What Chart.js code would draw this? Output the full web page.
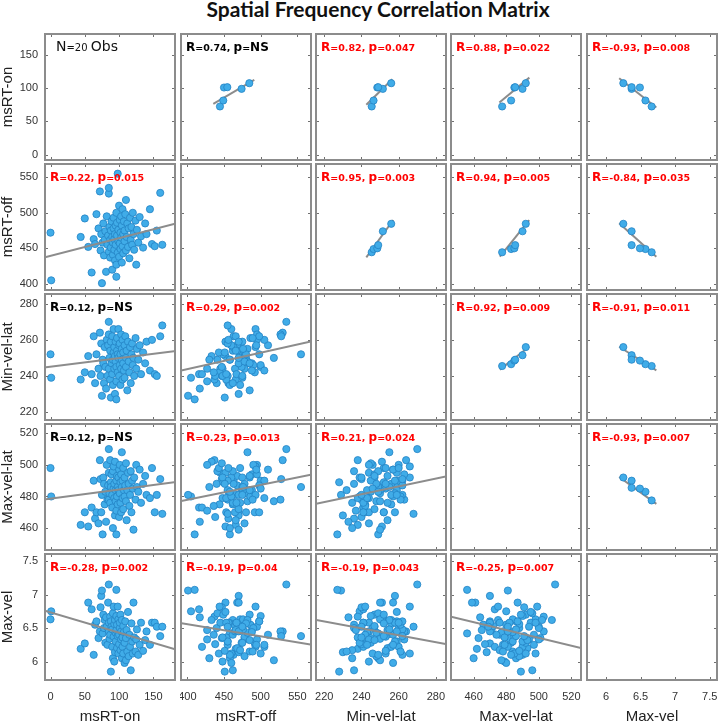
<!DOCTYPE html>
<html>
<head>
<meta charset="utf-8">
<script src="https://cdn.jsdelivr.net/npm/chart.js@4.4.0/dist/chart.umd.min.js"></script>
<style>
  html, body { margin: 0; padding: 0; background: #fff; overflow: hidden; }
  #wrap { position: relative; width: 720px; height: 722px; overflow: hidden; }
  #title { position: absolute; left: 0; top: -4px; width: 756px; text-align: center;
           font: bold 21px Lato, "Open Sans", sans-serif; color: #111; }
  #wrap canvas { position: absolute; }
</style>
</head>
<body>
<div id="wrap"><div id="title">Spatial Frequency Correlation Matrix</div></div>
<script>
// noms des variables et axes
const varNames = ['msRT-on', 'msRT-off', 'Min-vel-lat', 'Max-vel-lat', 'Max-vel'];
const axisMin = [-9.5, 390, 215, 445.5, 5.71];
const axisMax = [183, 570, 286, 526.5, 7.62];
const tickVals = [
    [0, 50, 100, 150],
    [400, 450, 500, 550],
    [220, 240, 260, 280],
    [460, 480, 500, 520],
    [6, 6.5, 7, 7.5]
];

// grand échantillon (triangle inférieur)
const msRTon = [
    0, 1, 44, 50, 55, 60, 63, 65, 67, 70,
    72, 73, 74, 75, 76, 77, 78, 79, 80, 81,
    82, 83, 84, 85, 85, 86, 87, 87, 88, 88,
    89, 90, 90, 91, 91, 92, 92, 93, 93, 94,
    94, 95, 95, 96, 96, 97, 97, 98, 98, 99,
    99, 100, 100, 101, 101, 102, 102, 103, 103, 104,
    104, 105, 105, 106, 106, 107, 108, 108, 109, 110,
    110, 111, 112, 113, 114, 115, 116, 117, 118, 119,
    120, 121, 122, 124, 125, 126, 128, 130, 132, 135,
    138, 140, 145, 148, 152, 155, 160, 163, 85, 96
];
const msRToff = [
    472, 405, 466, 492, 452, 416, 463, 456, 498, 478,
    530, 447, 470, 401, 458, 485, 440, 462, 474, 417,
    495, 455, 468, 527, 445, 480, 437, 462, 451, 475,
    488, 420, 466, 458, 441, 478, 493, 448, 463, 470,
    433, 482, 455, 500, 427, 468, 486, 555, 444, 460,
    476, 510, 438, 490, 457, 472, 449, 495, 465, 430,
    482, 453, 505, 470, 443, 488, 460, 475, 498, 518,
    447, 466, 485, 452, 478, 436, 493, 462, 480, 455,
    500, 470, 448, 489, 427, 476, 458, 494, 467, 451,
    485, 470, 505, 456, 453, 475, 528, 455, 535, 410
];
const minVelLat = [
    252, 239, 238, 242, 251, 241, 262, 236, 252, 244,
    264, 240, 258, 229, 249, 247, 236, 256, 245, 233,
    260, 240, 257, 263, 244, 250, 238, 254, 228, 259,
    247, 241, 262, 235, 249, 253, 266, 244, 256, 230,
    251, 248, 259, 245, 237, 254, 261, 252, 242, 266,
    250, 257, 240, 246, 258, 235, 252, 263, 244, 249,
    255, 238, 260, 247, 253, 243, 257, 239, 262, 250,
    245, 254, 232, 259, 248, 242, 256, 236, 252, 258,
    246, 250, 240, 261, 244, 255, 249, 257, 241, 253,
    247, 259, 243, 260, 241, 240, 262, 268, 270, 227
];
const maxVelLat = [
    498, 480, 462, 470, 461, 473, 490, 466, 470, 463,
    503, 491, 470, 481, 456, 492, 488, 475, 483, 464,
    500, 478, 487, 478, 495, 482, 503, 476, 489, 486,
    494, 473, 481, 460, 496, 485, 499, 479, 488, 468,
    502, 477, 484, 490, 471, 493, 480, 486, 475, 492,
    484, 497, 467, 500, 482, 476, 489, 494, 470, 486,
    508, 479, 490, 472, 498, 484, 480, 492, 487, 477,
    501, 465, 484, 495, 488, 474, 481, 496, 470, 490,
    485, 459, 492, 478, 500, 486, 483, 497, 476, 488,
    493, 481, 479, 498, 470, 481, 491, 469, 510, 456
];
const maxVel = [
    6.63, 6.75, 6.19, 6.27, 6.88, 6.78, 6.10, 6.55, 6.60, 6.35,
    6.45, 6.81, 6.98, 7.06, 6.42, 6.70, 6.50, 6.62, 6.28, 6.66,
    6.52, 6.25, 6.88, 6.45, 6.58, 6.34, 6.67, 6.40, 5.85, 6.60,
    6.52, 6.22, 6.48, 6.05, 6.72, 6.37, 6.82, 6.00, 6.56, 6.14,
    6.62, 6.43, 6.30, 6.68, 6.47, 6.20, 6.55, 6.38, 6.82, 6.12,
    6.63, 6.40, 6.26, 6.50, 6.58, 6.17, 6.70, 6.33, 6.45, 6.05,
    6.62, 6.36, 6.22, 6.53, 6.12, 6.44, 5.98, 6.28, 6.60, 6.02,
    6.35, 6.47, 6.15, 6.74, 6.08, 6.40, 6.22, 5.87, 6.57, 6.30,
    6.12, 6.88, 6.36, 6.15, 6.33, 6.48, 6.10, 6.25, 6.58, 6.16,
    6.32, 6.45, 6.25, 6.58, 6.58, 6.52, 6.38, 6.52, 7.15, 7.07
];
const bigObs = [msRTon, msRToff, minVelLat, maxVelLat, maxVel];

// petit échantillon (triangle supérieur)
const smallOn = [72.5, 81.5, 99, 101, 101.5, 107.5];
const smallOff = [444.5, 449, 474, 450, 454.5, 484.5];
const smallMinLat = [245.5, 246.5, 251.5, 248.5, 249, 256];
const smallMaxLat = [477.5, 483, 490, 485, 485.5, 492];
const smallMaxVel = [6.66, 6.57, 6.37, 6.49, 6.37, 6.25];
const smallObs = [smallOn, smallOff, smallMinLat, smallMaxLat, smallMaxVel];

// coefficients R et valeurs p
const rVals = [
    [null, 0.74, 0.82, 0.88, -0.93],
    [0.22, null, 0.95, 0.94, -0.84],
    [0.12, 0.29, null, 0.92, -0.91],
    [0.12, 0.23, 0.21, null, -0.93],
    [-0.28, -0.19, -0.19, -0.25, null]
];
const pVals = [
    [null, 'NS', '0.047', '0.022', '0.008'],
    ['0.015', null, '0.003', '0.005', '0.035'],
    ['NS', '0.002', null, '0.009', '0.011'],
    ['NS', '0.013', '0.024', null, '0.007'],
    ['0.002', '0.04', '0.043', '0.007', null]
];

// droites de régression [x1, y1, x2, y2] (ligne, colonne)
const fitLines = {
    '0,1': [435.4, 76.5, 491.3, 112.5],
    '0,2': [242.6, 75, 256.6, 113.5],
    '0,3': [475.8, 78.4, 494.2, 115.9],
    '0,4': [6.19, 115, 6.728, 71],
    '1,2': [242.6, 437.4, 257.1, 489.8],
    '1,3': [476.1, 438.2, 494.1, 489.8],
    '1,4': [6.19, 485.2, 6.728, 438.2],
    '2,3': [476.1, 243.5, 494.1, 256.2],
    '2,4': [6.19, 256.2, 6.728, 243.1],
    '3,4': [6.19, 492.3, 6.728, 475.3],
    '1,0': [-9.5, 437, 183, 485],
    '2,0': [-9.5, 244.7, 183, 253.8],
    '3,0': [-9.5, 478.1, 183, 489.1],
    '4,0': [-9.5, 6.763, 183, 6.18],
    '2,1': [390, 242.9, 570, 259.3],
    '3,1': [390, 477, 570, 494],
    '4,1': [390, 6.574, 570, 6.25],
    '3,2': [215, 475.3, 286, 492.8],
    '4,2': [215, 6.625, 286, 6.258],
    '4,3': [445.5, 6.674, 526.5, 6.2]
};

const panelLeft = [44, 180, 315, 450, 586];
const panelTop = [33, 163, 293, 423, 553];
const panelW = 132, panelH = 128;
const yAxisW = 44, xAxisH = 44;
const tickFont = { family: '"Liberation Sans", Arial, sans-serif', size: 11 };
const titleFont = { family: '"Liberation Sans", Arial, sans-serif', size: 15, lineHeight: 1.1 };

// dessine le texte R/p avec lettres grandes et chiffres petits
function drawMixedText(ctx, text, x, y, color, bold, bigSize, smallSize) {
    const parts = text.match(/[A-Za-z]+|[^A-Za-z]+/g);
    ctx.fillStyle = color;
    ctx.textBaseline = 'alphabetic';
    ctx.textAlign = 'left';
    const w = bold ? 'bold ' : '';
    parts.forEach(function (part) {
        const isWord = /[A-Za-z]/.test(part);
        ctx.font = w + (isWord ? bigSize : smallSize) + 'px "DejaVu Sans", Verdana, sans-serif';
        ctx.fillText(part, x, y);
        x += ctx.measureText(part).width;
    });
}

// cadre, graduations internes et texte de chaque panneau
const panelFrame = {
    id: 'panelFrame',
    afterDraw(chart, args, opts) {
        const ctx = chart.ctx;
        const a = chart.chartArea;
        const sx = chart.scales.x, sy = chart.scales.y;
        ctx.save();
        ctx.strokeStyle = '#707070';
        ctx.lineWidth = 1;
        ctx.beginPath();
        tickVals[opts.col].forEach(function (v) {
            const px = Math.round(sx.getPixelForValue(v)) + 0.5;
            ctx.moveTo(px, a.bottom); ctx.lineTo(px, a.bottom - 4);
            ctx.moveTo(px, a.top); ctx.lineTo(px, a.top + 4);
        });
        tickVals[opts.row].forEach(function (v) {
            const py = Math.round(sy.getPixelForValue(v)) + 0.5;
            ctx.moveTo(a.left, py); ctx.lineTo(a.left + 4, py);
            ctx.moveTo(a.right, py); ctx.lineTo(a.right - 4, py);
        });
        ctx.stroke();
        ctx.strokeStyle = '#8c8c8c';
        ctx.lineWidth = 2;
        ctx.strokeRect(a.left + 1, a.top + 1, a.width - 2, a.height - 2);

        const r = opts.row, c = opts.col;
        if (r === c && r === 0) {
            drawMixedText(ctx, 'N=20 Obs', a.left + 12, a.top + 18, '#111', false, 14, 10);
        } else if (r !== c) {
            const p = pVals[r][c];
            const txt = 'R=' + rVals[r][c].toFixed(2) + ', p=' + p;
            drawMixedText(ctx, txt, a.left + 6, a.top + 18, p === 'NS' ? '#000' : '#ff0000', true, 12, 9.5);
        }
        ctx.restore();
    }
};

const wrap = document.getElementById('wrap');

for (let r = 0; r < 5; r++) {
    for (let c = 0; c < 5; c++) {
        const leftCol = c === 0, bottomRow = r === 4;
        const canvas = document.createElement('canvas');
        canvas.width = panelW + (leftCol ? yAxisW : 0);
        canvas.height = panelH + (bottomRow ? xAxisH : 0);
        canvas.style.left = (panelLeft[c] - (leftCol ? yAxisW : 0)) + 'px';
        canvas.style.top = panelTop[r] + 'px';
        wrap.appendChild(canvas);

        const datasets = [];
        if (r !== c) {
            const src = r > c ? bigObs : smallObs;
            const pts = src[c].map(function (x, i) { return { x: x, y: src[r][i] }; });
            const l = fitLines[r + ',' + c];
            const lineSet = {
                data: [{ x: l[0], y: l[1] }, { x: l[2], y: l[3] }],
                showLine: true, borderColor: '#8c8c8c', borderWidth: 2,
                pointRadius: 0, fill: false
            };
            const pointSet = {
                data: pts, pointRadius: 3.6,
                backgroundColor: '#40ace8', borderColor: '#2383c4', borderWidth: 0.8
            };
            // en bas la droite passe devant les points
            if (r > c) { datasets.push(lineSet, pointSet); } else { datasets.push(pointSet, lineSet); }
        }

        const xScale = {
            type: 'linear', min: axisMin[c], max: axisMax[c], display: bottomRow,
            afterBuildTicks: function (s) { s.ticks = tickVals[c].map(function (v) { return { value: v }; }); },
            grid: { display: false, drawTicks: false }, border: { display: false },
            ticks: { padding: 9, color: '#333', font: tickFont, maxRotation: 0, autoSkip: false,
                     callback: function (v) { return String(v); } },
            title: { display: true, text: varNames[c], color: '#222', font: titleFont, padding: 0 }
        };
        if (bottomRow) {
            xScale.afterFit = function (s) { s.height = xAxisH; s.paddingLeft = 0; s.paddingRight = 0; };
        }
        const yScale = {
            type: 'linear', min: axisMin[r], max: axisMax[r], display: leftCol,
            afterBuildTicks: function (s) { s.ticks = tickVals[r].map(function (v) { return { value: v }; }); },
            grid: { display: false, drawTicks: false }, border: { display: false },
            ticks: { padding: 6, color: '#333', font: tickFont, autoSkip: false,
                     callback: function (v) { return String(v); } },
            title: { display: true, text: varNames[r], color: '#222', font: titleFont, padding: 0 }
        };
        if (leftCol) {
            yScale.afterFit = function (s) { s.width = yAxisW; s.paddingTop = 0; s.paddingBottom = 0; };
        }

        new Chart(canvas, {
            type: 'scatter',
            data: { datasets: datasets },
            options: {
                responsive: false,
                animation: false,
                events: [],
                layout: { padding: 0, autoPadding: false },
                scales: { x: xScale, y: yScale },
                plugins: {
                    legend: { display: false },
                    tooltip: { enabled: false },
                    panelFrame: { row: r, col: c }
                }
            },
            plugins: [panelFrame]
        });
    }
}
</script>
</body>
</html>
